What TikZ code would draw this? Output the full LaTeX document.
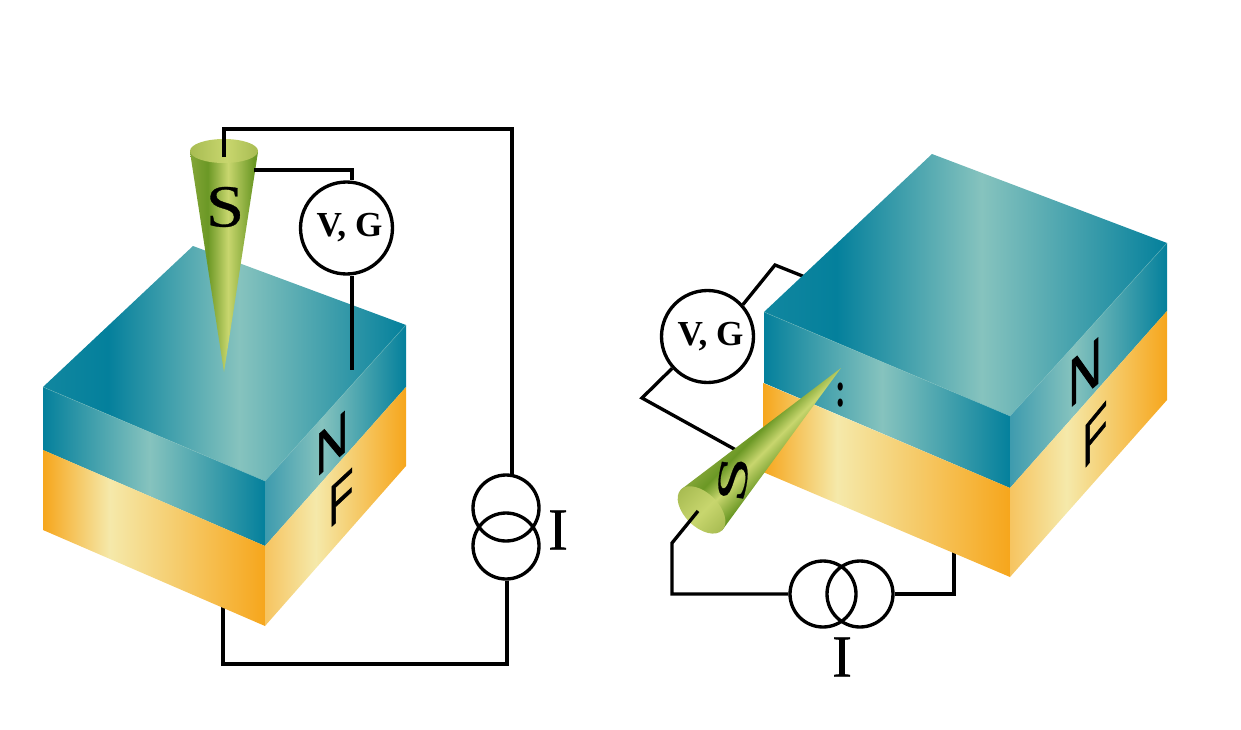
\documentclass[tikz,border=0pt]{standalone}
\usepackage{fontspec}
\setmainfont{Liberation Serif}
\newfontfamily\layerfont[FakeBold=1.2]{Liberation Sans}
\newfontfamily\tipfont[FakeBold=0.5]{Liberation Serif}
\usetikzlibrary{calc}
\definecolor{tealdark}{RGB}{4,128,156}
\definecolor{teallight}{RGB}{134,195,190}
\definecolor{tealmid}{RGB}{62,155,174}
\definecolor{orangedark}{RGB}{246,166,28}
\definecolor{orangelight}{RGB}{245,233,170}
\definecolor{orangemid}{RGB}{246,196,96}
\definecolor{greendark}{RGB}{107,152,37}
\definecolor{greenedge}{RGB}{132,166,56}
\definecolor{greenlight}{RGB}{200,214,110}
\definecolor{greencap}{RGB}{168,188,82}
% stops run from 25bp to 75bp across the shaded path
\pgfdeclarehorizontalshading{tealtop}{100bp}{color(0bp)=(tealdark!90!teallight); color(25bp)=(tealdark!90!teallight); color(34bp)=(tealdark); color(52bp)=(teallight); color(75bp)=(tealdark); color(100bp)=(tealdark)}
\pgfdeclarehorizontalshading{tealfront}{100bp}{color(0bp)=(tealdark); color(25bp)=(tealdark); color(49bp)=(teallight); color(75bp)=(tealdark); color(100bp)=(tealdark)}
\pgfdeclarehorizontalshading{tealside}{100bp}{color(0bp)=(tealmid); color(25bp)=(tealmid); color(45bp)=(teallight); color(75bp)=(tealdark); color(100bp)=(tealdark)}
\pgfdeclarehorizontalshading{orangefront}{100bp}{color(0bp)=(orangedark); color(25bp)=(orangedark); color(40bp)=(orangelight); color(75bp)=(orangedark); color(100bp)=(orangedark)}
\pgfdeclarehorizontalshading{orangeside}{100bp}{color(0bp)=(orangemid); color(25bp)=(orangemid); color(43bp)=(orangelight); color(75bp)=(orangedark); color(100bp)=(orangedark)}
\pgfdeclarehorizontalshading{tipbody}{100bp}{color(0bp)=(greenedge); color(25bp)=(greenedge); color(38bp)=(greendark); color(53bp)=(greenlight); color(72bp)=(greendark); color(100bp)=(greendark)}
\pgfdeclarehorizontalshading{tipcap}{100bp}{color(0bp)=(greencap); color(25bp)=(greencap); color(52bp)=(greenlight); color(75bp)=(greencap); color(100bp)=(greencap)}
\tikzset{
  wire/.style={line width=1.9pt, line join=miter},
  meter/.style={circle, draw, line width=1.9pt, minimum size=1.84cm, inner sep=0pt, font=\fontsize{20}{20}\selectfont\bfseries},
  source/.style={circle, draw, line width=1.9pt, minimum size=1.32cm, inner sep=0pt},
  seam/.style={line width=0.3pt, teallight, opacity=0.5},
  bigletter/.style={inner sep=0pt, font=\tipfont\fontsize{34}{34}\selectfont},
  layerletter/.style={inner sep=0pt, font=\layerfont\fontsize{33}{33}\selectfont}
}
\begin{document}
\begin{tikzpicture}[x=0.02cm, y=-0.02cm]
    \useasboundingbox (0,0) rectangle (1241,730);
    % Wires that run behind the blocks
    \node[source] (srcLa) at (506,508) {};
    \node[source] (srcLb) at (506,546) {};
    \node[source] (srcRa) at (823,594) {};
    \node[source] (srcRb) at (860,594) {};
    \coordinate (baseL) at (223,606);
    \coordinate (cornerLb) at (507,664);
    \coordinate (baseR) at (954,545);
    \coordinate (contactVR) at (810,279);
    \coordinate (cornerVa) at (775,265);
    \coordinate (cornerVb) at (642,398);
    \coordinate (contactVT) at (745,455);
    \node[meter] (vgR) at (707.5,336.5) {\kern0.12cm V, G};
    \draw[wire] (cornerLb |- srcLb.south) -- (cornerLb) -| (baseL);
    \draw[wire] (srcRb.east) -| (baseR);
    \draw[wire] (vgR.42) -- (cornerVa) -- (contactVR);
    \draw[wire] (vgR.222) -- (cornerVb) -- (contactVT);
    % Left block
    \shade[shading=tealtop] (193,246) -- (406,325) -- (265,481) -- (43,387) -- cycle;
    \shade[shading=tealfront] (43,387) -- (265,481) -- (265,546) -- (43,450) -- cycle;
    \shade[shading=tealside] (265,481) -- (406,325) -- (406,387) -- (265,546) -- cycle;
    \shade[shading=orangefront] (43,450) -- (265,546) -- (265,626) -- (43,530) -- cycle;
    \shade[shading=orangeside] (265,546) -- (406,387) -- (406,466) -- (265,626) -- cycle;
    \draw[seam] (43,387) -- (265,481) -- (406,325);
    \node[layerletter, cm={0.78,0.7,0,1.03,(0,0)}] (layerNL) at (332,443) {N};
    \node[layerletter, cm={0.7,0.65,0,1,(0,0)}] (layerFL) at (341,498) {F};
    % Right block
    \shade[shading=tealtop] (932,154) -- (1167,243) -- (1010,416) -- (764,312) -- cycle;
    \shade[shading=tealfront] (764,312) -- (1010,416) -- (1010,488) -- (764,383) -- cycle;
    \shade[shading=tealside] (1010,416) -- (1167,243) -- (1167,311) -- (1010,488) -- cycle;
    \shade[shading=orangefront] (763,383) -- (1010,488) -- (1010,577) -- (763,472) -- cycle;
    \shade[shading=orangeside] (1010,488) -- (1167,311) -- (1167,400) -- (1010,577) -- cycle;
    \draw[seam] (764,312) -- (1010,416) -- (1167,243);
    \node[layerletter, cm={0.8,0.7,0,1.15,(0,0)}] (layerNR) at (1085,372) {N};
    \node[layerletter, cm={0.7,0.85,0,1.05,(0,0)}] (layerFR) at (1095,435) {F};
    \node[inner sep=0pt, cm={0.7,0,0,1.1,(0,0)}, font=\fontsize{26}{26}\selectfont\bfseries] (gapR) at (841,395) {:};
    % Upright tip
    \shade[shading=tipbody] (190,152) -- (224,372) -- (258,152) -- cycle;
    \shade[shading=tipcap] (224,151) ellipse (34 and 12);
    \node[bigletter, xscale=1.15] (tipL) at (225,207) {S};
    % Tilted tip
    \begin{scope}[transform canvas={shift={(841,368)}, rotate=-44.5}]
        \shade[shading=tipbody] (-29,199) -- (0,0) -- (29,199) -- cycle;
        \shade[shading=tipcap] (0,199) ellipse (29 and 17);
    \end{scope}
    \node[bigletter, cm={0.2,1.4,-0.7,0.1,(0,0)}] (tipR) at (733,479) {S};
    % Wires on top of the blocks
    \node[meter] (vgL) at (346.5,228) {\kern0.12cm V, G};
    \coordinate (capL) at (224,157);
    \coordinate (cornerLa) at (512,129);
    \coordinate (sideL) at (254,170);
    \coordinate (cornerV) at (352,170);
    \coordinate (contactV) at (352,370);
    \coordinate (capR) at (698,511);
    \coordinate (cornerRa) at (672,543);
    \coordinate (cornerRb) at (672,594);
    \draw[wire] (capL) |- (cornerLa) -- (cornerLa |- srcLa.80);
    \draw[wire] (sideL) -- (cornerV) -- (cornerV |- vgL.north);
    \draw[wire] (contactV |- vgL.south) -- (contactV);
    \draw[wire] (capR) -- (cornerRa) -- (cornerRb) -- (srcRa.west);
    \node[bigletter] (labelIL) at (558,530) {I};
    \node[bigletter] (labelIR) at (842,657) {I};
\end{tikzpicture}
\end{document}
